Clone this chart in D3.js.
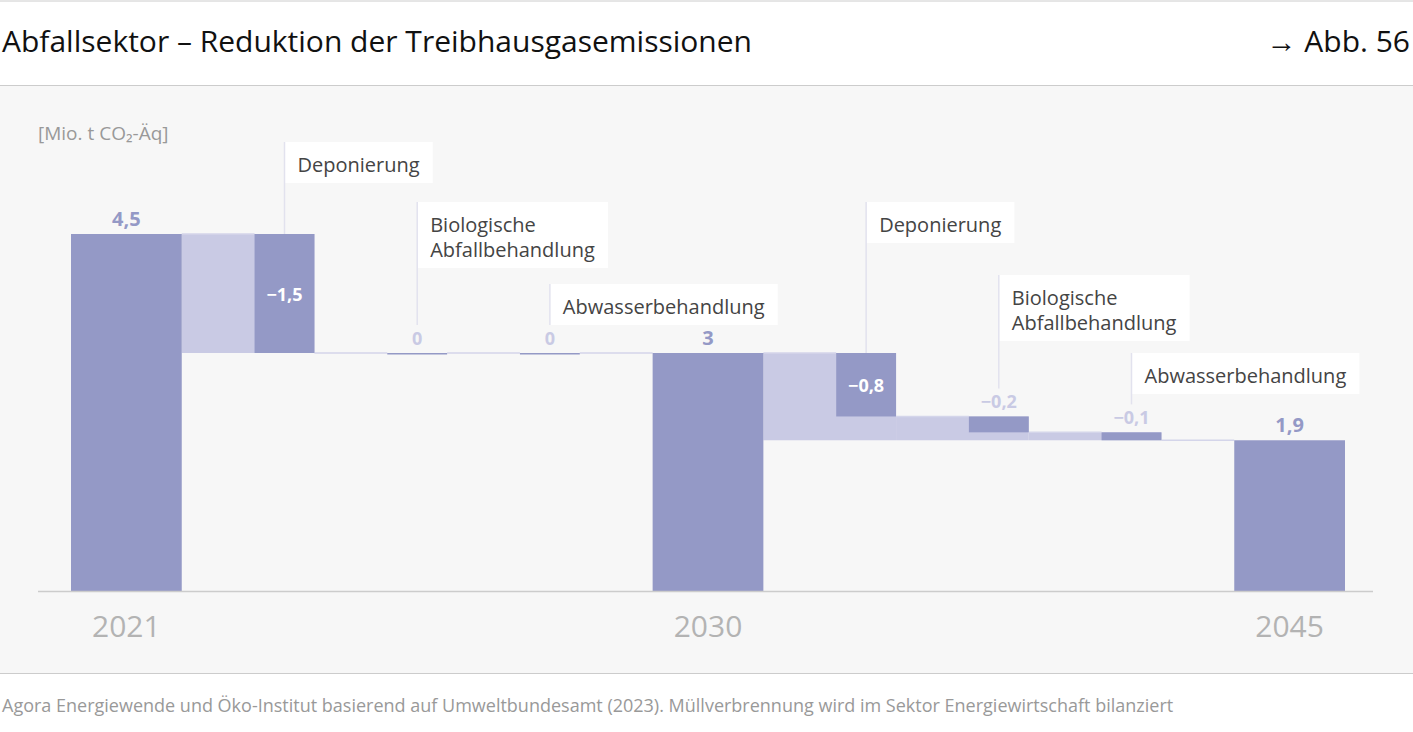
<!DOCTYPE html>
<html><head><meta charset="utf-8">
<script src="https://cdn.jsdelivr.net/npm/d3@7"></script>
<style>body{margin:0;background:#fff}svg{display:block;font-family:"Open Sans",sans-serif}</style>
</head><body><svg id="c" width="1413" height="732"></svg>
<script>
const years = ["2021","2030","2045"];
const totals = [4.5, 3, 1.9];
const deltaLabels = [["Deponierung"],["Biologische","Abfallbehandlung"],["Abwasserbehandlung"],["Deponierung"],["Biologische","Abfallbehandlung"],["Abwasserbehandlung"]];
const deltas = [-1.5, 0, 0, -0.8, -0.2, -0.1];
const deltaText = ["−1,5","0","0","−0,8","−0,2","−0,1"];
const totalText = ["4,5","3","1,9"];
const boxTops = [142, 202, 284, 202, 275, 353];

const DARK="#9499c6", LIGHT="#c9cae4";
const svg=d3.select("#c");
svg.append("rect").attr("x",0).attr("y",86).attr("width",1413).attr("height",587).attr("fill","#f7f7f7");
svg.append("line").attr("x1",0).attr("x2",1413).attr("y1",1).attr("y2",1).attr("stroke","#ccc");
svg.append("line").attr("x1",0).attr("x2",1413).attr("y1",85.5).attr("y2",85.5).attr("stroke","#ccc");
svg.append("line").attr("x1",0).attr("x2",1413).attr("y1",673.5).attr("y2",673.5).attr("stroke","#ccc");
svg.append("text").attr("x",2).attr("y",52).attr("font-size",30).attr("fill","#111").text("Abfallsektor – Reduktion der Treibhausgasemissionen");
svg.append("text").attr("x",1410).attr("y",52).attr("font-size",30).attr("fill","#111").attr("text-anchor","end").text("→ Abb. 56");
svg.append("text").attr("x",38).attr("y",140).attr("font-size",19).attr("fill","#999").text("[Mio. t CO₂-Äq]");
svg.append("text").attr("x",2).attr("y",712).attr("font-size",18).attr("fill","#999").text("Agora Energiewende und Öko-Institut basierend auf Umweltbundesamt (2023). Müllverbrennung wird im Sektor Energiewirtschaft bilanziert");

const y=d3.scaleLinear().domain([0,4.5]).range([591,234]);
// build item sequence
const items=[]; let di=0;
for(let t=0;t<3;t++){
  items.push({type:"total",i:t});
  if(t<2) for(let k=0;k<3;k++) items.push({type:"delta",i:di++,group:t});
}
const W={total:111,delta:60}, GAP=73;
let u=0; items.forEach((d,j)=>{ if(j>0)u+=GAP; d.u0=u; u+=W[d.type]; d.u1=u; });
const x=d3.scaleLinear().domain([0,u]).range([71,1345]);

// running values
let cur=totals[0];
items.forEach((d,j)=>{
  if(d.type==="total"){cur=totals[d.i]; d.v=cur;}
  else {d.before=cur; cur=+(cur+deltas[d.i]).toFixed(3); d.after=cur; d.end=totals[d.group+1]; d.prevRight=items[j-1].u1;}
});
const g=svg.append("g");
// light areas
items.filter(d=>d.type==="delta").forEach(d=>{
  g.append("rect").attr("x",x(d.prevRight)).attr("width",x(d.u1)-x(d.prevRight))
   .attr("y",y(d.before)).attr("height",Math.max(0,y(d.end)-y(d.before))).attr("fill",LIGHT);
});
// connector lines
items.forEach((d,j)=>{ if(j===0)return; const p=items[j-1]; const v=p.type==="total"?p.v:p.after;
  g.append("line").attr("x1",x(p.u1)).attr("x2",x(d.u0)).attr("y1",y(v)).attr("y2",y(v)).attr("stroke","#d4d5ea").attr("stroke-width",1.5);});
// bars
items.forEach(d=>{
  if(d.type==="total"){
    g.append("rect").attr("x",x(d.u0)).attr("width",x(d.u1)-x(d.u0)).attr("y",y(d.v)).attr("height",y(0)-y(d.v)).attr("fill",DARK);
    g.append("text").attr("x",(x(d.u0)+x(d.u1))/2).attr("y",y(d.v)-8).attr("text-anchor","middle").attr("font-size",20).attr("font-weight","bold").attr("fill",DARK).text(totalText[d.i]);
    g.append("text").attr("x",(x(d.u0)+x(d.u1))/2).attr("y",637).attr("text-anchor","middle").attr("font-size",30).attr("fill","#b3b3b3").text(years[d.i]);
  } else {
    const cx=(x(d.u0)+x(d.u1))/2, h=y(d.after)-y(d.before);
    g.append("rect").attr("x",x(d.u0)).attr("width",x(d.u1)-x(d.u0)).attr("y",y(d.before)).attr("height",Math.max(1.5,h)).attr("fill",DARK);
    const inside=h>40;
    g.append("text").attr("x",cx).attr("y",inside?(y(d.before)+h/2+7):y(d.before)-8).attr("text-anchor","middle").attr("font-size",18).attr("font-weight","bold")
     .attr("fill",inside?"#fff":"#c9cae4").text(deltaText[d.i]);
    // label line and box
    const lines=deltaLabels[d.i], bt=boxTops[d.i];
    g.append("line").attr("x1",cx).attr("x2",cx).attr("y1",bt).attr("y2",y(d.before)-(inside?0:28)).attr("stroke","#e2e2ee").attr("stroke-width",1.5);
    const txt=g.append("text").attr("font-size",20).attr("fill","#444");
    lines.forEach((l,k)=>txt.append("tspan").attr("x",cx+13).attr("y",bt+30+k*25).text(l));
    const bw=txt.node().getBBox().width+26, bh=16+lines.length*25;
    g.insert("rect","text").attr("x",cx).attr("y",bt).attr("width",bw).attr("height",bh).attr("fill","#fff");
  }
});
svg.append("line").attr("x1",38).attr("x2",1373).attr("y1",591.5).attr("y2",591.5).attr("stroke","#ccc").attr("stroke-width",1.5);
</script></body></html>
